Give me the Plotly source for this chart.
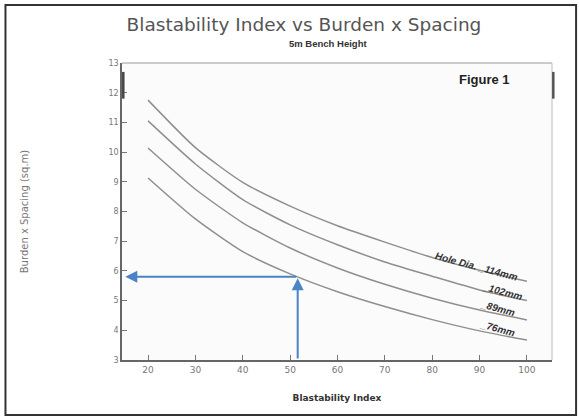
import plotly.graph_objects as go

blast_index = [20, 30, 40, 50, 60, 70, 80, 90, 100]
bs_114 = [11.75, 10.15, 8.98, 8.18, 7.52, 6.97, 6.45, 6.02, 5.65]
bs_102 = [11.05, 9.60, 8.40, 7.55, 6.88, 6.30, 5.82, 5.36, 5.00]
bs_89 = [10.14, 8.75, 7.62, 6.77, 6.10, 5.55, 5.08, 4.68, 4.35]
bs_76 = [9.13, 7.75, 6.65, 5.90, 5.30, 4.80, 4.36, 3.98, 3.67]
series = [("114mm", bs_114), ("102mm", bs_102), ("89mm", bs_89), ("76mm", bs_76)]
curve_labels = ["Hole Dia. _114mm", "_102mm", "_89mm", "_76mm"]
label_pos = [(89.4, 6.15), (94.8, 5.32), (94.0, 4.74), (93.8, 4.07)]

x_ticks = [20, 30, 40, 50, 60, 70, 80, 90, 100]
y_ticks = [3, 4, 5, 6, 7, 8, 9, 10, 11, 12, 13]

example_bi = 51.6
example_bs = 5.8

fig = go.Figure()
for name, ys in series:
    fig.add_trace(go.Scatter(x=blast_index, y=ys, mode="lines", name=name,
                             line=dict(color="#8f8f8f", width=1.5, shape="spline", smoothing=0.6),
                             showlegend=False, hoverinfo="skip"))

for txt, (lx, ly) in zip(curve_labels, label_pos):
    fig.add_annotation(x=lx, y=ly, text="<i><b>" + txt + "</b></i>", showarrow=False,
                       textangle=15, font=dict(family="Liberation Sans", size=10, color="#333"))

fig.add_annotation(x=91.0, y=12.43, text="<b>Figure 1</b>", showarrow=False,
                   font=dict(family="Liberation Sans", size=13, color="#222"))

blue = "#4a84c4"
fig.add_annotation(x=15.2, y=example_bs, ax=example_bi, ay=example_bs, axref="x", ayref="y",
                   xref="x", yref="y", text="", showarrow=True, arrowhead=2, arrowsize=1.2,
                   arrowwidth=2, arrowcolor=blue)
fig.add_annotation(x=example_bi, y=example_bs - 0.05, ax=example_bi, ay=3, axref="x", ayref="y",
                   xref="x", yref="y", text="", showarrow=True, arrowhead=2, arrowsize=1.2,
                   arrowwidth=2, arrowcolor=blue)

# outer frame
fig.add_shape(type="rect", xref="paper", yref="paper", x0=-0.271, x1=1.056, y0=-0.185, y1=1.195,
              line=dict(color="#333", width=2), layer="below")
# top and right plot frame lines
fig.add_shape(type="line", xref="paper", yref="paper", x0=0, x1=1, y0=1, y1=1,
              line=dict(color="#999", width=1))
fig.add_shape(type="line", xref="paper", yref="paper", x0=1, x1=1, y0=0, y1=1,
              line=dict(color="#bbb", width=1))
fig.add_shape(type="line", xref="paper", yref="paper", x0=1.003, x1=1.003, y0=0.88, y1=0.97,
              line=dict(color="#555", width=2.5))
fig.add_shape(type="line", xref="paper", yref="paper", x0=0.003, x1=0.003, y0=0.88, y1=0.97,
              line=dict(color="#444", width=2.5))

fig.update_layout(
    width=579, height=417,
    margin=dict(l=122, r=27, t=63, b=57),
    paper_bgcolor="white", plot_bgcolor="#fbfbfb",
    title=dict(text="Blastability Index vs Burden x Spacing", x=0.525, xanchor="center",
               y=0.94, yanchor="middle",
               font=dict(family="DejaVu Sans", size=18.5, color="#555")),
    font=dict(family="DejaVu Sans", size=8, color="#555"),
    xaxis=dict(range=[14.5, 105.3], tickvals=x_ticks, ticks="inside", ticklen=5,
               tickcolor="#777", showgrid=False, zeroline=False, showline=True,
               linecolor="#666", linewidth=1.5,
               title=dict(text="<b>Blastability Index</b>", font=dict(size=9, color="#333"), standoff=21),
               tickfont=dict(size=9, color="#777")),
    yaxis=dict(range=[3, 13], tickvals=y_ticks, ticks="inside", ticklen=5,
               tickcolor="#777", showgrid=False, zeroline=False, showline=True,
               linecolor="#666", linewidth=1.5,
               title=dict(text="Burden x Spacing (sq.m)", font=dict(size=10, color="#777"), standoff=78),
               tickfont=dict(size=8, color="#777")),
)
fig.add_annotation(x=0.48, y=1.065, xref="paper", yref="paper", yanchor="middle",
                   text="<b>5m Bench Height</b>",
                   showarrow=False, font=dict(family="Liberation Sans", size=9.5, color="#333"))

fig.write_html("out.html")
